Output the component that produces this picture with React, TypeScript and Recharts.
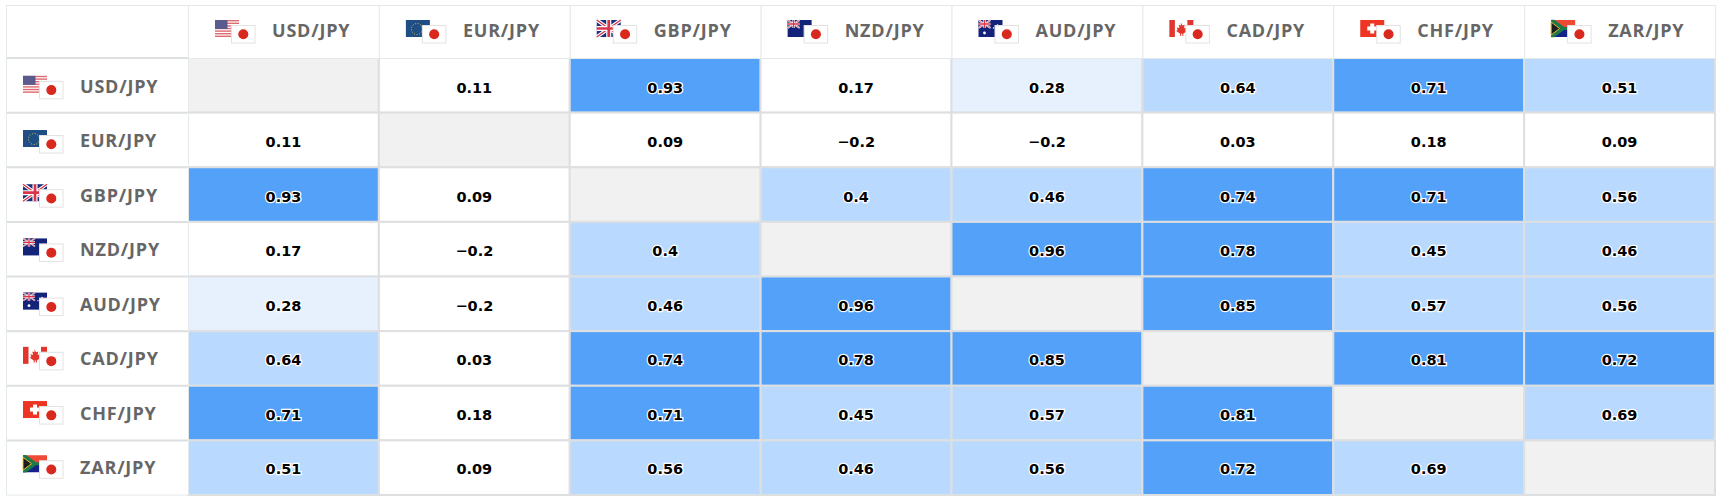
import { ScatterChart, Scatter, XAxis, YAxis } from 'recharts'

const PAIRS = ['USD/JPY', 'EUR/JPY', 'GBP/JPY', 'NZD/JPY', 'AUD/JPY', 'CAD/JPY', 'CHF/JPY', 'ZAR/JPY']
const BASES = ['USD', 'EUR', 'GBP', 'NZD', 'AUD', 'CAD', 'CHF', 'ZAR']

const USD_ROW = [null, 0.11, 0.93, 0.17, 0.28, 0.64, 0.71, 0.51]
const EUR_ROW = [0.11, null, 0.09, -0.2, -0.2, 0.03, 0.18, 0.09]
const GBP_ROW = [0.93, 0.09, null, 0.4, 0.46, 0.74, 0.71, 0.56]
const NZD_ROW = [0.17, -0.2, 0.4, null, 0.96, 0.78, 0.45, 0.46]
const AUD_ROW = [0.28, -0.2, 0.46, 0.96, null, 0.85, 0.57, 0.56]
const CAD_ROW = [0.64, 0.03, 0.74, 0.78, 0.85, null, 0.81, 0.72]
const CHF_ROW = [0.71, 0.18, 0.71, 0.45, 0.57, 0.81, null, 0.69]
const ZAR_ROW = [0.51, 0.09, 0.56, 0.46, 0.56, 0.72, 0.69, null]
const ROWS = [USD_ROW, EUR_ROW, GBP_ROW, NZD_ROW, AUD_ROW, CAD_ROW, CHF_ROW, ZAR_ROW]

const cells = ROWS.flatMap((row, r) =>
  row.map((value, c) => ({ col: c + 0.5, row: r + 0.5, value })),
)
const TICKS = PAIRS.map((_, i) => i + 0.5)

const WIDTH = 1722
const HEIGHT = 504
const LEFT = 6
const TOP = 5
const BOTTOM = 9
const HEADER_H = 53
const ROW_LABEL_W = 182
const CELL_W = (WIDTH - 7 - LEFT - ROW_LABEL_W) / 8
const CELL_H = (HEIGHT - BOTTOM - TOP - HEADER_H) / 8

const LABEL_FONT = '"Open Sans", sans-serif'
const VALUE_FONT = '"DejaVu Sans", sans-serif'
const LINE = '#dedfe1'
const HEADER_LINE = '#e4e9ec'

function cellColor(value: number | null) {
  if (value === null) return '#f1f1f1'
  if (value >= 0.7) return '#53a1f8'
  if (value >= 0.4) return '#b9dafe'
  if (value >= 0.2) return '#e6f1fd'
  return '#ffffff'
}

function UnionMini({ w, h }: { w: number; h: number }) {
  return (
    <g>
      <rect width={w} height={h} fill="#1c2f7c" />
      <path d={`M0 0L${w} ${h}M${w} 0L0 ${h}`} stroke="#fff" strokeWidth={h * 0.2} />
      <path d={`M0 0L${w} ${h}M${w} 0L0 ${h}`} stroke="#d8344a" strokeWidth={h * 0.08} />
      <path d={`M${w / 2} 0V${h}M0 ${h / 2}H${w}`} stroke="#fff" strokeWidth={h * 0.3} />
      <path d={`M${w / 2} 0V${h}M0 ${h / 2}H${w}`} stroke="#d8344a" strokeWidth={h * 0.16} />
    </g>
  )
}

function BaseFlag({ code }: { code: string }) {
  switch (code) {
    case 'USD':
      return (
        <g>
          <rect width={24} height={17} fill="#fff" />
          {[0, 1, 2, 3, 4, 5, 6].map((i) => (
            <rect key={i} y={i * 2.6} width={24} height={1.4} fill="#dd6a70" />
          ))}
          <rect width={12.5} height={9} fill="#5a5a8f" />
        </g>
      )
    case 'EUR':
      return (
        <g>
          <rect width={24} height={17} fill="#1f4e85" />
          <circle cx={11} cy={9} r={5.5} fill="none" stroke="#d8c25a" strokeWidth={1} strokeDasharray="1 1.6" />
        </g>
      )
    case 'GBP':
      return <UnionMini w={24} h={17} />
    case 'NZD':
      return (
        <g>
          <rect width={24} height={17} fill="#14237a" />
          <UnionMini w={12} h={8} />
          <circle cx={20} cy={6} r={0.9} fill="#e33" />
        </g>
      )
    case 'AUD':
      return (
        <g>
          <rect width={24} height={17} fill="#14237a" />
          <UnionMini w={12} h={8} />
          <circle cx={6} cy={13} r={1.4} fill="#fff" />
          <circle cx={19} cy={5} r={0.8} fill="#fff" />
          <circle cx={15} cy={8} r={0.7} fill="#fff" />
        </g>
      )
    case 'CAD':
      return (
        <g>
          <rect width={24} height={17} fill="#fff" />
          <rect width={5.5} height={17} fill="#e2362c" />
          <rect x={18} width={6} height={5} fill="#e2362c" />
          <path d="M11.5 2.5l1.6 3 2.2-.8-.7 3.4 2.6-.6-.8 2.4 1.4 1-4 2.8.3 2h-1.2v-2l-1.2 0v2h-1.2l.3-2-4-2.8 1.4-1-.8-2.4 2.6.6-.7-3.4 2.2.8z" fill="#e2362c" />
        </g>
      )
    case 'CHF':
      return (
        <g>
          <rect width={24} height={17} fill="#ee3524" />
          <rect x={10} y={3.5} width={4} height={10} fill="#fff" />
          <rect x={7} y={6.5} width={10} height={4} fill="#fff" />
        </g>
      )
    default:
      return (
        <g>
          <rect width={24} height={8.5} fill="#ef4a36" />
          <rect y={8.5} width={24} height={8.5} fill="#14238a" />
          <path d="M3 -0.2L13 7H24V10H13L3 17.2H0V-0.2Z" fill="#1c7a48" />
          <path d="M0 2L8.5 8.5L0 15Z" fill="#1d1d1d" stroke="#e8b93a" strokeWidth={1} />
        </g>
      )
  }
}

function PairFlag({ x, y, code }: { x: number; y: number; code: string }) {
  return (
    <g transform={`translate(${x},${y})`}>
      <BaseFlag code={code} />
      <rect x={16.5} y={5.5} width={23.5} height={17.5} fill="#fff" stroke="#e2e2e2" />
      <circle cx={28.3} cy={14.3} r={5} fill="#d9281e" />
    </g>
  )
}

function HeaderTick({ x, y, index }: any) {
  const left = x - CELL_W / 2
  const top = y - HEADER_H
  return (
    <g>
      <rect x={left + 0.5} y={top + 0.5} width={CELL_W} height={HEADER_H} fill="#fff" stroke={HEADER_LINE} />
      {index === 0 && (
        <rect x={LEFT + 0.5} y={top + 0.5} width={ROW_LABEL_W} height={HEADER_H} fill="#fff" stroke={HEADER_LINE} />
      )}
      <PairFlag x={left + 27} y={top + 15} code={BASES[index]} />
      <text x={left + 84} y={top + 26} dy="0.36em" fontFamily={LABEL_FONT} fontWeight={700} fontSize={18} fill="#666" letterSpacing={0.8}>
        {PAIRS[index]}
      </text>
    </g>
  )
}

function RowTick({ x, y, index }: any) {
  return (
    <g>
      <rect x={LEFT + 0.5} y={y - CELL_H / 2} width={ROW_LABEL_W} height={CELL_H} fill="#fff" stroke={HEADER_LINE} strokeWidth={1} />
      <path d={`M${LEFT + 1} ${y - CELL_H / 2}H${x}`} stroke={LINE} strokeWidth={2} />
      <PairFlag x={23} y={y - 9.5 - index * 0.42} code={BASES[index]} />
      <text x={80} y={y + 1 - index * 0.15} dy="0.36em" fontFamily={LABEL_FONT} fontWeight={700} fontSize={18} fill="#666" letterSpacing={0.8}>
        {PAIRS[index]}
      </text>
    </g>
  )
}

function Cell({ cx, cy, payload }: any) {
  const { value } = payload
  return (
    <g>
      <rect
        x={cx - CELL_W / 2}
        y={cy - CELL_H / 2}
        width={CELL_W}
        height={CELL_H}
        fill={cellColor(value)}
        stroke={LINE}
        strokeWidth={2}
      />
      {value !== null && (
        <text
          x={cx}
          y={cy + 2.5 - payload.row * 0.15}
          dy="0.36em"
          textAnchor="middle"
          fontFamily={VALUE_FONT}
          fontWeight={700}
          fontSize={14.5}
          fill="#000"
          stroke="#fff"
          strokeWidth={2.5}
          paintOrder="stroke"
        >
          {String(value).replace('-', '\u2212')}
        </text>
      )}
    </g>
  )
}

export default function App() {
  return (
    <div style={{ position: 'absolute', left: 0, top: 0, width: WIDTH, height: HEIGHT, background: '#fff' }}>
      <ScatterChart
        width={WIDTH}
        height={HEIGHT}
        margin={{ top: TOP, right: 7, bottom: BOTTOM, left: LEFT }}
      >
        <XAxis
          type="number"
          dataKey="col"
          orientation="top"
          domain={[0, 8]}
          ticks={TICKS}
          interval={0}
          height={HEADER_H}
          axisLine={false}
          tickLine={false}
          tickSize={0}
          tickMargin={0}
          tick={<HeaderTick />}
        />
        <YAxis
          type="number"
          dataKey="row"
          domain={[0, 8]}
          reversed
          ticks={TICKS}
          interval={0}
          width={ROW_LABEL_W}
          axisLine={false}
          tickLine={false}
          tickSize={0}
          tickMargin={0}
          tick={<RowTick />}
        />
        <Scatter data={cells} isAnimationActive={false} shape={<Cell />} />
      </ScatterChart>
    </div>
  )
}
